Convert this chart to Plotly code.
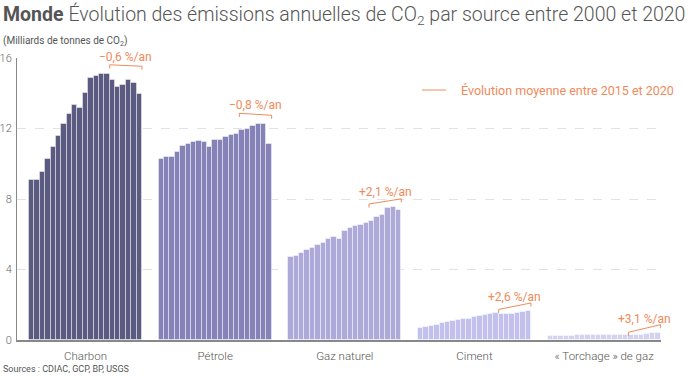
import plotly.graph_objects as go

years = list(range(2000, 2021))
categories = ["Charbon", "Pétrole", "Gaz naturel", "Ciment", "« Torchage » de gaz"]

charbon = [9.05, 9.09, 9.51, 10.27, 10.93, 11.59, 12.27, 12.84, 13.33, 13.18, 14.02,
           14.85, 14.96, 15.08, 15.09, 14.73, 14.38, 14.47, 14.73, 14.58, 13.98]
petrole = [10.29, 10.37, 10.37, 10.67, 11.03, 11.13, 11.24, 11.28, 11.22, 10.97, 11.33,
           11.37, 11.54, 11.64, 11.70, 11.89, 12.00, 12.17, 12.25, 12.28, 11.11]
gaz = [4.72, 4.76, 4.91, 5.09, 5.24, 5.37, 5.52, 5.71, 5.87, 5.71, 6.19,
       6.34, 6.46, 6.53, 6.63, 6.78, 6.97, 7.10, 7.49, 7.54, 7.39]
ciment = [0.70, 0.76, 0.81, 0.87, 0.95, 1.00, 1.10, 1.15, 1.19, 1.21, 1.30,
          1.36, 1.42, 1.48, 1.51, 1.48, 1.46, 1.46, 1.55, 1.59, 1.63]
torchage = [0.25, 0.25, 0.25, 0.25, 0.25, 0.26, 0.26, 0.27, 0.27, 0.28, 0.29,
            0.28, 0.28, 0.27, 0.27, 0.27, 0.27, 0.29, 0.33, 0.38, 0.40]
series = [charbon, petrole, gaz, ciment, torchage]
rates = [-0.6, -0.8, 2.1, 2.6, 3.1]
rate_labels = ["−0,6 %/an", "−0,8 %/an", "+2,1 %/an", "+2,6 %/an", "+3,1 %/an"]
colors = ["#5b5a80", "#8582b8", "#adaad9", "#c2c0ec", "#d4d3ef"]
orange = "#f08a5b"

# plot area in pixels: x 17..661, y 58..340
L, R, T, B = 17, 661, 58, 340


def px(x):
    return (x - L) / (R - L)


def py(y):
    return (B - y) / (B - T)


GROUP = 24.1
fig = go.Figure()
for g, vals in enumerate(series):
    xs = [g * GROUP + i for i in range(len(years))]
    fig.add_trace(go.Bar(
        x=xs, y=vals, width=1, marker=dict(color=colors[g], line=dict(color="rgba(255,255,255,0.45)", width=1)),
        name=categories[g], showlegend=False, hoverinfo="y"))

shapes = []
annotations = []
for g, vals in enumerate(series):
    i0 = years.index(2015)
    i1 = years.index(2020)
    xl = g * GROUP + i0 - 0.5
    xr = g * GROUP + i1 + 0.5
    top = max(vals[i0:])
    rise = rates[g] * 0.14
    yr = top + (0.8 if g == 0 else 0.47)
    yl = yr - rise
    line = dict(color=orange, width=1)
    shapes.append(dict(type="line", xref="x", yref="y", x0=xl, x1=xr, y0=yl, y1=yr, line=line))
    shapes.append(dict(type="line", xref="x", yref="y", x0=xl, x1=xl, y0=yl, y1=yl - 0.2, line=line))
    shapes.append(dict(type="line", xref="x", yref="y", x0=xr, x1=xr, y0=yr, y1=yr - 0.2, line=line))
    annotations.append(dict(x=(xl + xr) / 2, y=(yl + yr) / 2, xref="x", yref="y", text=rate_labels[g],
                            showarrow=False, yanchor="bottom", yshift=0,
                            font=dict(family="Roboto", size=12, color=orange)))

# legend
shapes.append(dict(type="line", xref="paper", yref="paper", x0=px(422), x1=px(446), y0=py(90), y1=py(90),
                   line=dict(color=orange, width=1)))
annotations.append(dict(x=px(459), y=py(90), xref="paper", yref="paper", xanchor="left", yanchor="middle",
                        text="Évolution moyenne entre 2015 et 2020", showarrow=False,
                        font=dict(family="Roboto", size=12.5, color=orange)))
# title
annotations.append(dict(x=px(1), y=py(0), xref="paper", yref="paper", xanchor="left", yanchor="top",
                        text="<b>Monde</b> <span style='font-weight:300'>Évolution des émissions annuelles de CO<sub>2</sub> par source entre 2000 et 2020</span>",
                        showarrow=False, font=dict(family="Roboto", size=19.5, color="#555555")))
annotations.append(dict(x=px(1), y=py(33), xref="paper", yref="paper", xanchor="left", yanchor="top",
                        text="(Milliards de tonnes de CO<sub>2</sub>)", showarrow=False,
                        font=dict(family="Roboto", size=10, color="#555555")))
annotations.append(dict(x=px(1), y=py(362), xref="paper", yref="paper", xanchor="left", yanchor="top",
                        text="Sources : CDIAC, GCP, BP, USGS", showarrow=False,
                        font=dict(family="Roboto", size=9, color="#555555")))

fig.update_layout(
    width=700, height=376, margin=dict(l=L, r=700 - R, t=T, b=376 - B),
    plot_bgcolor="white", paper_bgcolor="white", bargap=0,
    shapes=shapes, annotations=annotations,
    font=dict(family="Roboto", color="#555555"),
)
fig.update_xaxes(range=[-2.73, 116.97], tickvals=[g * GROUP + 10 for g in range(5)], ticktext=categories,
                 showgrid=False, zeroline=False, showline=True, linecolor="#888888", linewidth=1.5,
                 ticks="", ticklabelstandoff=4, tickfont=dict(size=11.5, color="#555555", weight=300),
                 automargin=False)
fig.update_yaxes(range=[0, 16], tickvals=[0, 4, 8, 12, 16], showgrid=True, gridcolor="#e2e2e2",
                 griddash="dash", zeroline=False, showline=True, linecolor="#888888", linewidth=1,
                 ticks="", ticklabelstandoff=2, tickfont=dict(size=11, color="#666666", weight=300),
                 automargin=False)
fig.write_html("out.html", config={"displayModeBar": False},
               post_script="document.body.style.margin='0';document.body.style.padding='0';")
